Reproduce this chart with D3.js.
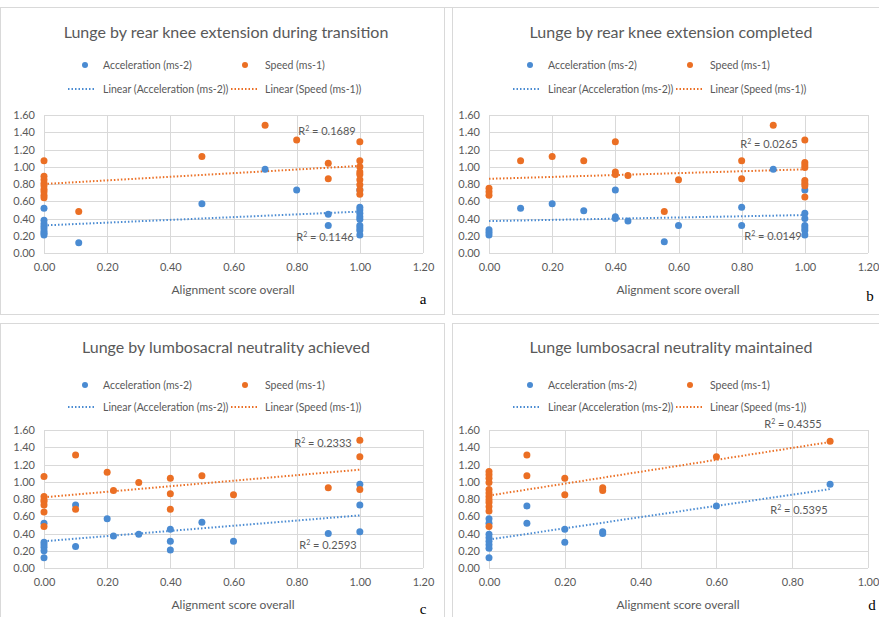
<!DOCTYPE html>
<html>
<head>
<meta charset="utf-8">
<script src="https://cdn.jsdelivr.net/npm/d3@7"></script>
<style>
  body { margin: 0; background: #fff; }
  svg text { font-family: Lato, "Open Sans", sans-serif; }
</style>
</head>
<body>
<svg id="chart" width="879" height="617"></svg>
<script>
// --> chart data

var titles = [
    "Lunge by rear knee extension during transition",
    "Lunge by rear knee extension completed",
    "Lunge by lumbosacral neutrality achieved",
    "Lunge lumbosacral neutrality maintained"
];
var letters = ["a", "b", "c", "d"];
var xMaxes = [1.2, 1.2, 1.2, 1.0];
var xTicks = [[0, 0.2, 0.4, 0.6, 0.8, 1.0, 1.2], [0, 0.2, 0.4, 0.6, 0.8, 1.0, 1.2],
              [0, 0.2, 0.4, 0.6, 0.8, 1.0, 1.2], [0, 0.2, 0.4, 0.6, 0.8, 1.0]];
var yTicks = [0, 0.2, 0.4, 0.6, 0.8, 1.0, 1.2, 1.4, 1.6];

// panel a
var accA = [[0,0.52],[0,0.38],[0,0.34],[0,0.31],[0,0.28],[0,0.25],[0,0.23],[0,0.21],
            [0.11,0.12],[0.5,0.57],[0.7,0.97],[0.8,0.73],[0.9,0.45],[0.9,0.32],
            [1,0.73],[1,0.53],[1,0.50],[1,0.46],[1,0.42],[1,0.39],[1,0.32],[1,0.29],[1,0.26],[1,0.21]];
var spdA = [[0,1.07],[0,0.89],[0,0.85],[0,0.81],[0,0.78],[0,0.74],[0,0.71],[0,0.67],[0,0.64],
            [0.11,0.48],[0.5,1.12],[0.7,1.48],[0.8,1.31],[0.9,1.04],[0.9,0.86],
            [1,1.29],[1,1.07],[1,1.00],[1,0.94],[1,0.91],[1,0.85],[1,0.79],[1,0.73],[1,0.68]];
// panel b
var accB = [[0,0.27],[0,0.24],[0,0.21],[0.1,0.52],[0.2,0.57],[0.3,0.49],[0.4,0.73],[0.4,0.42],[0.4,0.40],
            [0.44,0.37],[0.555,0.13],[0.6,0.32],[0.8,0.53],[0.8,0.32],[0.9,0.97],
            [1,0.73],[1,0.46],[1,0.40],[1,0.32],[1,0.29],[1,0.26],[1,0.21]];
var spdB = [[0,0.75],[0,0.71],[0,0.67],[0.1,1.07],[0.2,1.12],[0.3,1.07],[0.4,1.29],[0.4,0.94],[0.4,0.91],
            [0.44,0.90],[0.555,0.48],[0.6,0.85],[0.8,1.07],[0.8,0.86],[0.9,1.48],
            [1,1.31],[1,1.05],[1,1.02],[1,0.99],[1,0.84],[1,0.81],[1,0.78],[1,0.65]];
// panel c
var accC = [[0,0.52],[0,0.30],[0,0.27],[0,0.24],[0,0.20],[0,0.12],[0.1,0.73],[0.1,0.25],
            [0.2,0.57],[0.22,0.37],[0.3,0.39],[0.4,0.45],[0.4,0.31],[0.4,0.21],[0.5,0.53],
            [0.6,0.31],[0.9,0.40],[1,0.97],[1,0.73],[1,0.42]];
var spdC = [[0,1.06],[0,0.83],[0,0.79],[0,0.77],[0,0.73],[0,0.65],[0,0.48],[0.1,1.31],[0.1,0.68],
            [0.2,1.11],[0.22,0.90],[0.3,0.99],[0.4,1.04],[0.4,0.86],[0.4,0.68],[0.5,1.07],
            [0.6,0.85],[0.9,0.93],[1,1.48],[1,1.29],[1,0.91]];
// panel d
var accD = [[0,0.57],[0,0.52],[0,0.39],[0,0.35],[0,0.31],[0,0.27],[0,0.23],[0,0.12],
            [0.1,0.72],[0.1,0.52],[0.2,0.45],[0.2,0.30],[0.3,0.42],[0.3,0.40],[0.6,0.72],[0.9,0.97]];
var spdD = [[0,1.12],[0,1.08],[0,1.04],[0,0.99],[0,0.91],[0,0.87],[0,0.83],[0,0.79],[0,0.76],
            [0,0.71],[0,0.66],[0,0.48],[0.1,1.31],[0.1,1.07],[0.2,1.04],[0.2,0.85],
            [0.3,0.93],[0.3,0.90],[0.6,1.29],[0.9,1.47]];

// linear trend lines: [x start, x end, intercept, slope]
var trendAcc = [[0, 1, 0.32, 0.16], [0, 1, 0.37, 0.07], [0, 1, 0.31, 0.30], [0, 0.9, 0.33, 0.65]];
var trendSpd = [[0, 1, 0.80, 0.21], [0, 1, 0.86, 0.11], [0, 1, 0.82, 0.32], [0, 0.9, 0.84, 0.69]];
var r2Acc = ["0.1146", "0.0149", "0.2593", "0.5395"];
var r2Spd = ["0.1689", "0.0265", "0.2333", "0.4355"];

var accData = [accA, accB, accC, accD];
var spdData = [spdA, spdB, spdC, spdD];

// --> layout
var blue = "#4a8bd2", orange = "#eb6f24", grey = "#595959";
var offsets = [[0, 0], [445, 0], [0, 315], [445, 315]];
var r2AccPos = [[325, 237], [328, 236], [328, 230], [354, 195]];
var r2SpdPos = [[327, 131], [324, 144], [323, 128], [348, 109]];
var letterPos = [[423, 304], [425, 301], [423, 299], [427, 295]];
var legendY = [[65, 89], [65, 89], [70, 92], [70, 92]];

var svg = d3.select("#chart");

// panel frames
svg.append("line").attr("x1", 0).attr("x2", 879).attr("y1", 7.5).attr("y2", 7.5)
    .attr("stroke", "#d9d9d9");
[[0.5, 7.5, 444, 307], [452.5, 7.5, 430, 307], [0.5, 323.5, 444, 300], [452.5, 323.5, 430, 300]]
    .forEach(function (b) {
        svg.append("rect").attr("x", b[0]).attr("y", b[1]).attr("width", b[2]).attr("height", b[3])
            .attr("fill", "none").attr("stroke", "#d9d9d9");
    });

titles.forEach(function (title, i) {
    var g = svg.append("g").attr("transform", "translate(" + offsets[i][0] + "," + offsets[i][1] + ")");

    var x = d3.scaleLinear().domain([0, xMaxes[i]]).range([44, 423]);
    var y = d3.scaleLinear().domain([0, 1.6]).range([253, 115]);

    // title
    g.append("text").attr("x", 226).attr("y", 38).attr("text-anchor", "middle")
        .attr("font-size", 16).attr("fill", grey).text(title);

    // legend
    var ly = legendY[i];
    g.append("circle").attr("cx", 85).attr("cy", ly[0]).attr("r", 3).attr("fill", blue);
    g.append("text").attr("x", 103).attr("y", ly[0] + 4).attr("font-size", 10.5).attr("fill", grey)
        .text("Acceleration (ms-2)");
    g.append("circle").attr("cx", 245).attr("cy", ly[0]).attr("r", 3).attr("fill", orange);
    g.append("text").attr("x", 265).attr("y", ly[0] + 4).attr("font-size", 10.5).attr("fill", grey)
        .text("Speed (ms-1)");
    g.append("line").attr("x1", 68).attr("x2", 96).attr("y1", ly[1]).attr("y2", ly[1])
        .attr("stroke", blue).attr("stroke-width", 2).attr("stroke-dasharray", "1.5,2");
    g.append("text").attr("x", 103).attr("y", ly[1] + 4).attr("font-size", 10.5).attr("fill", grey)
        .text("Linear (Acceleration (ms-2))");
    g.append("line").attr("x1", 231).attr("x2", 258).attr("y1", ly[1]).attr("y2", ly[1])
        .attr("stroke", orange).attr("stroke-width", 2).attr("stroke-dasharray", "1.5,2");
    g.append("text").attr("x", 265).attr("y", ly[1] + 4).attr("font-size", 10.5).attr("fill", grey)
        .text("Linear (Speed (ms-1))");

    // grid
    g.selectAll(".hgrid").data(yTicks).enter().append("line")
        .attr("x1", x(0)).attr("x2", x(xMaxes[i]))
        .attr("y1", function (d) { return Math.round(y(d)) + 0.5; })
        .attr("y2", function (d) { return Math.round(y(d)) + 0.5; })
        .attr("stroke", "#d9d9d9");
    g.selectAll(".vgrid").data(xTicks[i]).enter().append("line")
        .attr("y1", y(0)).attr("y2", y(1.6))
        .attr("x1", function (d) { return Math.round(x(d)) + 0.5; })
        .attr("x2", function (d) { return Math.round(x(d)) + 0.5; })
        .attr("stroke", "#d9d9d9");

    // axes
    var yAxis = g.append("g").attr("transform", "translate(" + x(0) + ",0)")
        .call(d3.axisLeft(y).tickValues(yTicks).tickFormat(d3.format(".2f")).tickSize(0).tickPadding(9));
    var xAxis = g.append("g").attr("transform", "translate(0," + y(0) + ")")
        .call(d3.axisBottom(x).tickValues(xTicks[i]).tickFormat(d3.format(".2f")).tickSize(0).tickPadding(10));
    [yAxis, xAxis].forEach(function (a) {
        a.select(".domain").remove();
        a.selectAll("text").attr("fill", grey).attr("font-size", 11)
            .style("font-family", "Lato, 'Open Sans', sans-serif");
    });

    g.append("text").attr("x", 233).attr("y", 294).attr("text-anchor", "middle")
        .attr("font-size", 12).attr("fill", grey).text("Alignment score overall");

    // trend lines
    [[trendAcc[i], blue], [trendSpd[i], orange]].forEach(function (t) {
        var p = t[0];
        g.append("line")
            .attr("x1", x(p[0])).attr("y1", y(p[2] + p[3] * p[0]))
            .attr("x2", x(p[1])).attr("y2", y(p[2] + p[3] * p[1]))
            .attr("stroke", t[1]).attr("stroke-width", 2).attr("stroke-dasharray", "1.5,2");
    });

    // points
    g.selectAll(".acc").data(accData[i]).enter().append("circle")
        .attr("cx", function (d) { return x(d[0]); })
        .attr("cy", function (d) { return y(d[1]); })
        .attr("r", 3.5).attr("fill", blue);
    g.selectAll(".spd").data(spdData[i]).enter().append("circle")
        .attr("cx", function (d) { return x(d[0]); })
        .attr("cy", function (d) { return y(d[1]); })
        .attr("r", 3.5).attr("fill", orange);

    // R squared labels
    [[r2Spd[i], r2SpdPos[i]], [r2Acc[i], r2AccPos[i]]].forEach(function (r) {
        var t = g.append("text").attr("x", r[1][0]).attr("y", r[1][1] + 4)
            .attr("text-anchor", "middle").attr("font-size", 11).attr("fill", grey);
        t.append("tspan").text("R");
        t.append("tspan").attr("dy", -4).attr("font-size", 7).text("2");
        t.append("tspan").attr("dy", 4).text(" = " + r[0]);
    });

    // panel letter
    g.append("text").attr("x", letterPos[i][0]).attr("y", letterPos[i][1])
        .attr("text-anchor", "middle").attr("font-size", 15)
        .style("font-family", "'Liberation Serif', serif").attr("fill", "#000").text(letters[i]);
});
</script>
</body>
</html>
